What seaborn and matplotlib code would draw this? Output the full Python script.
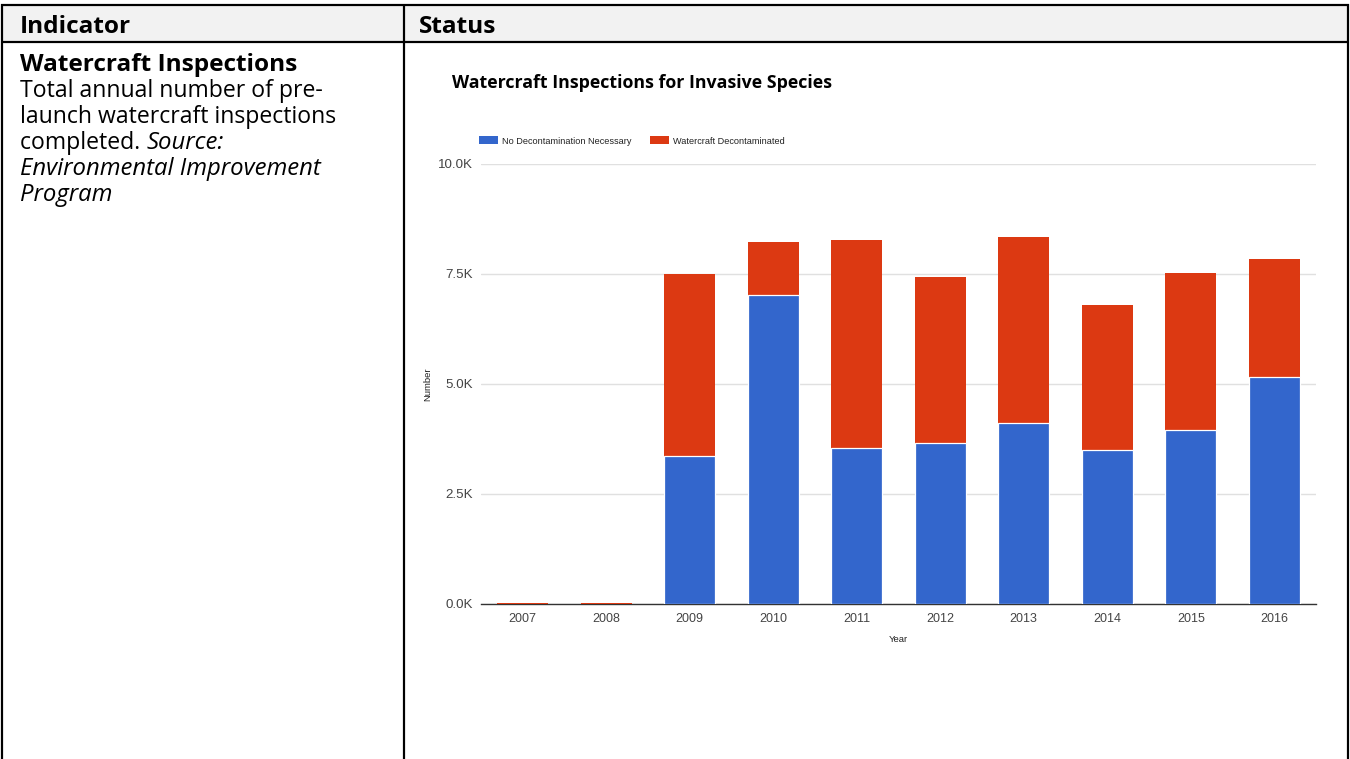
import numpy as np
import pandas as pd
import matplotlib
matplotlib.use("Agg")
import matplotlib.pyplot as plt
import seaborn as sns
from matplotlib.patches import Rectangle, Patch
from matplotlib.lines import Line2D
from matplotlib.ticker import FuncFormatter

# ---- data -------------------------------------------------------------
years = ["2007", "2008", "2009", "2010", "2011", "2012", "2013", "2014", "2015", "2016"]
no_decontamination = [0, 0, 3360, 7030, 3550, 3670, 4110, 3490, 3950, 5170]
decontaminated = [30, 30, 4130, 1200, 4730, 3760, 4220, 3300, 3570, 2680]
y_ticks = [0, 2500, 5000, 7500, 10000]
series_names = ["No Decontamination Necessary", "Watercraft Decontaminated"]

BLUE = "#3366cc"
RED = "#dc3912"

sns.set_theme(style="white")
plt.rcParams["font.family"] = ["Liberation Sans", "DejaVu Sans"]

W, H = 1350, 759
fig = plt.figure(figsize=(W / 100, H / 100), dpi=100)
fig.patch.set_facecolor("white")


def fx(x):
    return x / W


def fy(y):
    return 1 - y / H


# ---- table frame ------------------------------------------------------
fig.add_artist(Rectangle((fx(3), fy(41)), fx(1347) - fx(3), (41 - 5) / H,
                         transform=fig.transFigure, facecolor="#f2f2f2",
                         edgecolor="none", zorder=0))


def hline(y, x0, x1, lw=2.2):
    fig.add_artist(Line2D([fx(x0), fx(x1)], [fy(y), fy(y)], transform=fig.transFigure,
                          color="black", lw=lw * 0.72, solid_capstyle="butt"))


def vline(x, y0, y1, lw=2.2):
    fig.add_artist(Line2D([fx(x), fx(x)], [fy(y0), fy(y1)], transform=fig.transFigure,
                          color="black", lw=lw * 0.72, solid_capstyle="butt"))


hline(5, 1, 1349)
hline(42, 1, 1349)
vline(1.5, 4, 759)
vline(404, 4, 759)
vline(1348, 4, 759)

TABLE_FONT = ["Open Sans", "DejaVu Sans"]
head_size = 17.6
body_size = 16.6
italic_size = 17.2
fig.text(fx(20), fy(33), "Indicator", family=TABLE_FONT, weight="bold", size=head_size,
         va="baseline", color="black")
fig.text(fx(419), fy(33), "Status", family=TABLE_FONT, weight="bold", size=head_size,
         va="baseline", color="black")
fig.text(fx(20), fy(71), "Watercraft Inspections", family=TABLE_FONT, weight="bold",
         size=head_size, va="baseline", color="black")

fig.text(fx(20), fy(97), "Total annual number of pre-", family=TABLE_FONT,
         size=body_size, va="baseline", color="black")
fig.text(fx(20), fy(123), "launch watercraft inspections", family=TABLE_FONT,
         size=body_size, va="baseline", color="black")
t_comp = fig.text(fx(20), fy(149), "completed. ", family=TABLE_FONT,
                  size=body_size, va="baseline", color="black")
renderer = fig.canvas.get_renderer()
bb = t_comp.get_window_extent(renderer)
fig.text(bb.x1 / W, fy(149), "Source:", family=TABLE_FONT, style="italic",
         size=italic_size, va="baseline", color="black")
fig.text(fx(20), fy(175), "Environmental Improvement", family=TABLE_FONT,
         style="italic", size=italic_size, va="baseline", color="black")
fig.text(fx(20), fy(201), "Program", family=TABLE_FONT, style="italic",
         size=italic_size, va="baseline", color="black")

# ---- chart ------------------------------------------------------------
fig.text(fx(452), fy(88), "Watercraft Inspections for Invasive Species",
         family=["Open Sans", "DejaVu Sans"], weight="bold", size=12.75,
         va="baseline", color="black")

ax = fig.add_axes([fx(481), fy(604), fx(1316) - fx(481), (604 - 164) / H])

df = pd.DataFrame({"Year": years,
                   "No": no_decontamination,
                   "Dec": decontaminated})
df["Total"] = df["No"] + df["Dec"]

sns.barplot(data=df, x="Year", y="Total", color=RED, saturation=1, width=0.61,
            errorbar=None, linewidth=0, zorder=3, ax=ax)
n_red = len(ax.patches)
sns.barplot(data=df, x="Year", y="No", color=BLUE, saturation=1, width=0.61,
            errorbar=None, edgecolor="white", linewidth=0.9, zorder=3, ax=ax)
for p in ax.patches[n_red:]:
    if p.get_height() == 0:
        p.set_linewidth(0)
        p.set_visible(False)

ax.set_xlim(-0.5, len(years) - 0.5)
ax.set_ylim(0, 10000)
ax.set_yticks(y_ticks)
ax.yaxis.set_major_formatter(FuncFormatter(lambda v, _: f"{v / 1000:.1f}K"))
ax.yaxis.grid(True, color="#e0e0e0", lw=1.0)
ax.xaxis.grid(False)
ax.set_axisbelow(True)
for s in ["left", "right", "top"]:
    ax.spines[s].set_visible(False)
ax.spines["bottom"].set_color("#333333")
ax.spines["bottom"].set_linewidth(1.0)
ax.spines["bottom"].set_zorder(2)
ax.tick_params(axis="both", length=0, labelsize=9, labelcolor="#444444")
ax.tick_params(axis="y", labelsize=9.6)
ax.tick_params(axis="x", pad=6.5)
ax.tick_params(axis="y", pad=6)

ax.set_xlabel("Year", fontsize=6.8, color="#222222")
ax.set_ylabel("Number", fontsize=6.8, color="#222222")
ax.xaxis.set_label_coords(0.5, -(640 - 604) / 440)
ax.xaxis.label.set_va("center")
ax.yaxis.set_label_coords(-(481 - 428) / 835, 0.5)
ax.yaxis.label.set_va("center")

handles = [Patch(facecolor=BLUE, edgecolor="none"), Patch(facecolor=RED, edgecolor="none")]
fig.legend(handles, series_names, loc="center left",
           bbox_to_anchor=(fx(479), fy(141)), bbox_transform=fig.transFigure,
           ncol=2, frameon=False, fontsize=6.6, handlelength=2.1, handleheight=0.95,
           handletextpad=0.4, columnspacing=2.0, borderpad=0, borderaxespad=0,
           labelcolor="#222222")

fig.savefig("out.png", dpi=100, facecolor="white")
